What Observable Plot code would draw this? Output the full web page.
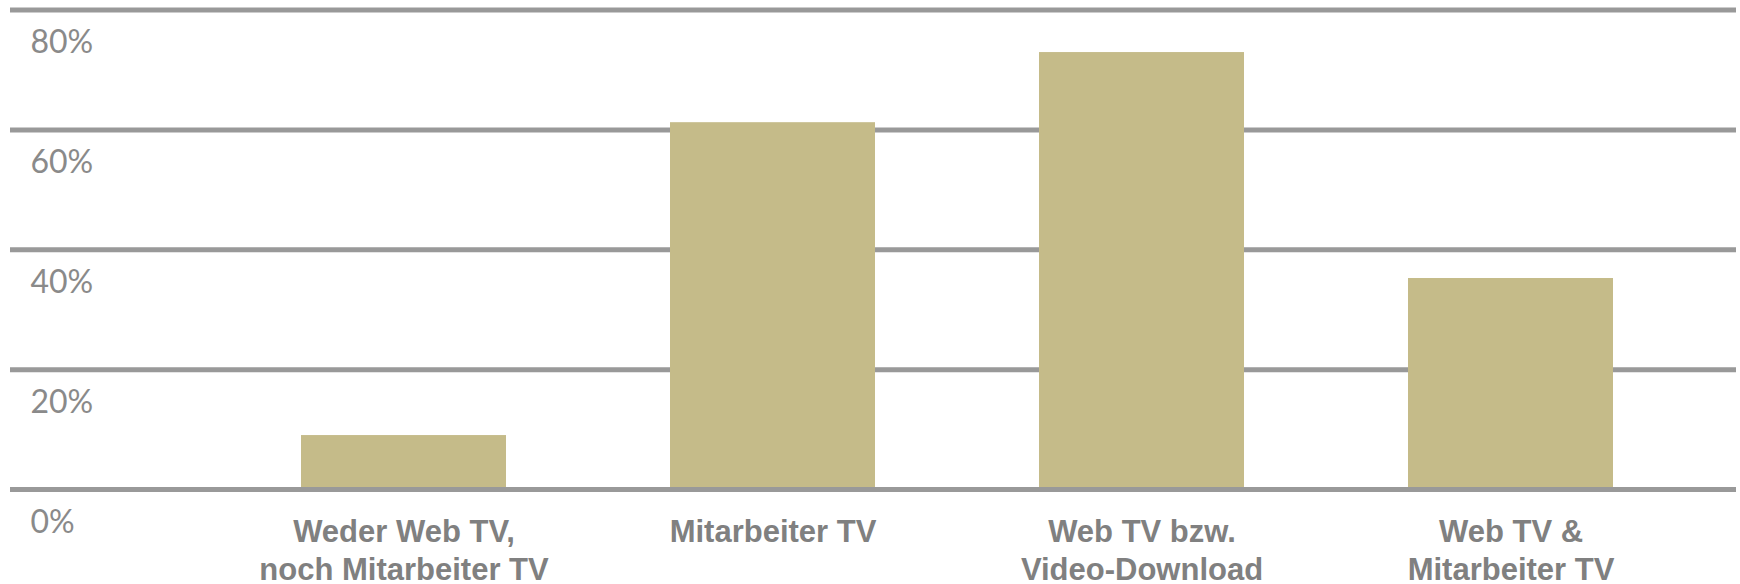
<!DOCTYPE html>
<html>
<head>
<meta charset="utf-8">
<script src="https://cdn.jsdelivr.net/npm/d3@7"></script>
<script src="https://cdn.jsdelivr.net/npm/@observablehq/plot@0.6"></script>
<style>
  html, body { margin: 0; padding: 0; background: #fff; }
  #chart svg { display: block; }
</style>
</head>
<body>
<div id="chart"></div>
<script>
const categories = [
  "Weder Web TV,\nnoch Mitarbeiter TV",
  "Mitarbeiter TV",
  "Web TV bzw.\nVideo-Download",
  "Web TV &\nMitarbeiter TV"
];
const values = [9.0, 61.2, 72.9, 35.2];
const yTicks = [0, 20, 40, 60, 80];
const yTickLabels = ["0%", "20%", "40%", "60%", "80%"];

const data = categories.map((c, i) => ({category: c, value: values[i]}));
const ticks = yTicks.map((v, i) => ({v, label: yTickLabels[i]}));

const chart = Plot.plot({
  width: 1740,
  height: 584,
  marginTop: 9.5,
  marginBottom: 95,
  marginLeft: 10,
  marginRight: 4,
  x: {type: "band", domain: categories, range: [300.8, 1613.7], paddingInner: 0.445, paddingOuter: 0, axis: null},
  y: {domain: [0, 80], range: [489, 9.5], axis: null},
  marks: [
    Plot.ruleY(yTicks, {stroke: "#999999", strokeWidth: 5}),
    Plot.barY(data, {x: "category", y: "value", fill: "#c5bb89"}),
    Plot.ruleY([0], {stroke: "#999999", strokeWidth: 5}),
    Plot.text(ticks, {
      y: "v", text: "label", frameAnchor: "left", textAnchor: "start",
      dx: 20, dy: 33, lineAnchor: "middle",
      fontFamily: "Lato", fontSize: 32, fill: "#8a8a8a"
    }),
    Plot.text(data, {
      x: "category", text: "category", frameAnchor: "bottom",
      lineAnchor: "top", dy: 26, lineHeight: 1.22,
      fontFamily: "Liberation Sans, Arial, sans-serif", fontWeight: "bold",
      fontSize: 31, fill: "#808080", style: {letterSpacing: "1.3px"}
    })
  ]
});
document.getElementById("chart").appendChild(chart);
</script>
</body>
</html>
